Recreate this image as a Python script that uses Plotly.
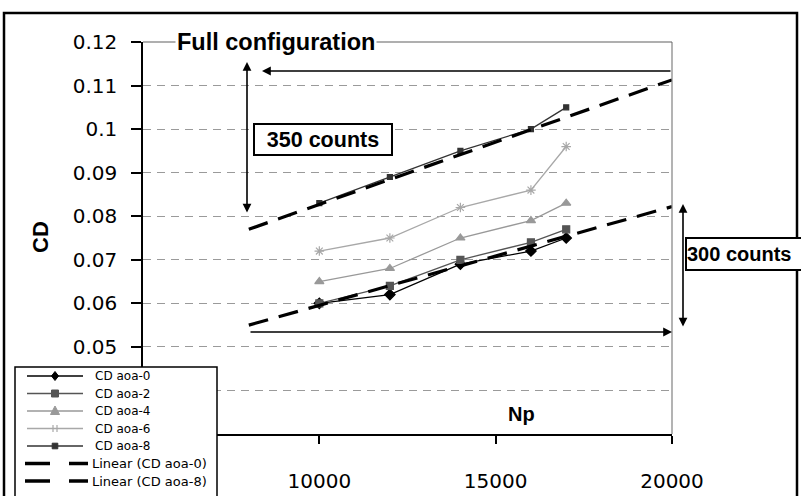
import plotly.graph_objects as go

# ---------------- data ----------------
np_x = [10000, 12000, 14000, 16000, 17000]
cd_aoa0 = [0.060, 0.062, 0.069, 0.072, 0.075]
cd_aoa2 = [0.060, 0.064, 0.070, 0.074, 0.077]
cd_aoa4 = [0.065, 0.068, 0.075, 0.079, 0.083]
cd_aoa6 = [0.072, 0.075, 0.082, 0.086, 0.096]
cd_aoa8 = [0.083, 0.089, 0.095, 0.100, 0.105]
trend_x = [8000, 20000]
trend_aoa0 = [0.0550, 0.0822]
trend_aoa8 = [0.0770, 0.1113]

series_names = ["CD aoa-0", "CD aoa-2", "CD aoa-4", "CD aoa-6", "CD aoa-8"]
trend_names = ["Linear (CD aoa-0)", "Linear (CD aoa-8)"]

# labels at 0.03 / 0.04 / 5000 sit under the legend box in the reference
y_tickvals = [0.03, 0.04, 0.05, 0.06, 0.07, 0.08, 0.09, 0.10, 0.11, 0.12]
y_ticktext = ["", "", "0.05", "0.06", "0.07", "0.08", "0.09", "0.1", "0.11", "0.12"]
x_tickvals = [5000, 10000, 15000, 20000]
x_ticktext = ["", "10000", "15000", "20000"]

# ---------------- layout geometry ----------------
W, H = 801, 496
ML, MR, MT, MB = 143, 129, 42, 62
PW, PH = W - ML - MR, H - MT - MB


def px(xp):
    return (xp - ML) / PW


def py(yp):
    return (H - MB - yp) / PH


FONT = "DejaVu Sans"
BOLD = "Liberation Sans"

fig = go.Figure()

styles = [
    ("#000000", "diamond", 8),
    ("#555555", "square", 7),
    ("#999999", "triangle-up", 8),
    ("#a8a8a8", "asterisk-open", 8),
    ("#333333", "square", 5),
]
for name, vals, (col, sym, sz) in zip(series_names, [cd_aoa0, cd_aoa2, cd_aoa4, cd_aoa6, cd_aoa8], styles):
    fig.add_trace(go.Scatter(
        x=np_x, y=vals, name=name, mode="lines+markers", showlegend=False,
        line=dict(color=col, width=1.3),
        marker=dict(symbol=sym, size=sz, color=col, line=dict(color=col, width=1.2)),
    ))

for name, vals in zip(trend_names, [trend_aoa0, trend_aoa8]):
    fig.add_trace(go.Scatter(
        x=trend_x, y=vals, name=name, mode="lines", showlegend=False,
        line=dict(color="black", width=3.2, dash="20px,11px"),
    ))

ann = []
ann.append(dict(x=px(175), y=1, xref="paper", yref="paper", xanchor="left", yanchor="middle",
                text="<b>Full configuration</b>", showarrow=False, bgcolor="white",
                font=dict(family=BOLD, size=23.5, color="black"), borderpad=1))
ann.append(dict(x=px(521), y=py(414), xref="paper", yref="paper", xanchor="center", yanchor="middle",
                text="<b>Np</b>", showarrow=False, font=dict(family=BOLD, size=20, color="black")))
ann.append(dict(x=px(40), y=py(237), xref="paper", yref="paper", xanchor="center", yanchor="middle",
                text="<b>CD</b>", textangle=-90,
                showarrow=False, font=dict(family=BOLD, size=22, color="black")))
ann.append(dict(x=px(253), y=py(139.5), xref="paper", yref="paper", xanchor="left", yanchor="middle",
                text="<b>350 counts</b>", showarrow=False, bgcolor="white",
                bordercolor="black", borderwidth=2, borderpad=0, width=136, height=29,
                font=dict(family=BOLD, size=21.5, color="black")))
# box runs to the chart's right edge; text kept just inside it
ann.append(dict(x=px(685), y=py(254), xref="paper", yref="paper", xanchor="left", yanchor="middle",
                text="<b>300 counts</b>", showarrow=False, bgcolor="white", align="left",
                bordercolor="black", borderwidth=2, borderpad=0, width=130, height=30,
                font=dict(family=BOLD, size=20, color="black")))

arrow = dict(showarrow=True, text="", arrowhead=2, arrowsize=1.1, arrowwidth=1.6,
             arrowcolor="black", xref="paper", yref="paper", axref="pixel", ayref="pixel")


def add_arrow(x0, y0, x1, y1, both=False):
    a = dict(arrow)
    a.update(x=px(x1), y=py(y1), ax=x0 - x1, ay=y0 - y1)
    if both:
        a["arrowside"] = "end+start"
    ann.append(a)


add_arrow(672, 71, 262, 71)
add_arrow(247, 214, 247, 62, both=True)
add_arrow(249, 332, 672, 332)
add_arrow(683, 328, 683, 204, both=True)

shapes = [
    dict(type="line", xref="paper", yref="paper", x0=1, x1=1, y0=0, y1=1,
         line=dict(color="#808080", width=1.2)),
    dict(type="line", xref="paper", yref="paper", x0=0, x1=1, y0=1, y1=1,
         line=dict(color="#606060", width=1.2)),
    dict(type="rect", xref="paper", yref="paper", x0=px(4), x1=px(797), y0=py(505), y1=py(13),
         line=dict(color="black", width=2.5), layer="below"),
]

# ---------------- manual legend ----------------
LX0, LX1, LY0 = 15, 217, 367
shapes.append(dict(type="rect", xref="paper", yref="paper", x0=px(LX0), x1=px(LX1),
                   y0=py(506), y1=py(LY0), fillcolor="white",
                   line=dict(color="black", width=1.5), layer="above"))
row_y = [376, 393.5, 411, 428.5, 446, 463.5, 481]


def seg(x0, x1, y, col, w):
    return dict(type="line", xref="paper", yref="paper", x0=px(x0), x1=px(x1), y0=py(y), y1=py(y),
                line=dict(color=col, width=w), layer="above")


def path(pts, col):
    d = "M " + " L ".join(f"{px(a)},{py(b)}" for a, b in pts) + " Z"
    return dict(type="path", xref="paper", yref="paper", path=d,
                fillcolor=col, line=dict(color=col, width=1), layer="above")


for i, (name, (col, sym, sz)) in enumerate(zip(series_names, styles)):
    y = row_y[i]
    shapes.append(seg(27, 83, y, col, 1.5))
    cx = 55
    if sym == "diamond":
        shapes.append(path([(cx, y - 4.5), (cx + 3.5, y), (cx, y + 4.5), (cx - 3.5, y)], col))
    elif sym == "square":
        h = 3.5 if sz > 6 else 2.8
        shapes.append(path([(cx - h, y - h), (cx + h, y - h), (cx + h, y + h), (cx - h, y + h)], col))
    elif sym == "triangle-up":
        shapes.append(path([(cx, y - 5), (cx + 4.5, y + 3.5), (cx - 4.5, y + 3.5)], col))
    else:
        for dx in (-2, 2):
            shapes.append(dict(type="line", xref="paper", yref="paper", x0=px(cx + dx), x1=px(cx + dx),
                               y0=py(y - 3.5), y1=py(y + 3.5), line=dict(color=col, width=1.2),
                               layer="above"))
    ann.append(dict(x=px(93), y=py(y), xref="paper", yref="paper", xanchor="left", yanchor="middle",
                    text=name, showarrow=False, font=dict(family=FONT, size=12, color="black")))

for j, name in enumerate(trend_names):
    y = row_y[5 + j]
    shapes.append(seg(25, 50, y, "black", 3.5))
    shapes.append(seg(69, 88, y, "black", 3.5))
    ann.append(dict(x=px(90), y=py(y), xref="paper", yref="paper", xanchor="left", yanchor="middle",
                    text=name, showarrow=False, font=dict(family=FONT, size=13, color="black")))

fig.update_layout(
    width=W, height=H,
    margin=dict(l=ML, r=MR, t=MT, b=MB, pad=0, autoexpand=False),
    paper_bgcolor="white", plot_bgcolor="white",
    showlegend=False,
    annotations=ann,
    shapes=shapes,
    font=dict(family=FONT, color="black"),
)

fig.update_xaxes(range=[5000, 20000], tickvals=x_tickvals, ticktext=x_ticktext,
                 showline=True, linecolor="black", linewidth=1.5, automargin=False,
                 ticks="outside", ticklen=8, tickcolor="black", tickwidth=1.5,
                 showgrid=False, zeroline=False, ticklabelstandoff=20,
                 tickfont=dict(family=FONT, size=20, color="black"))
fig.update_yaxes(range=[0.03, 0.12], tickvals=y_tickvals, ticktext=y_ticktext,
                 showline=True, linecolor="black", linewidth=1.5, automargin=False,
                 ticks="outside", ticklen=10, tickcolor="black", tickwidth=1.5,
                 showgrid=True, gridcolor="#9a9a9a", gridwidth=1, griddash="8px,6px",
                 zeroline=False, ticklabelstandoff=10,
                 tickfont=dict(family=FONT, size=20, color="black"))

fig.write_html("out.html")
